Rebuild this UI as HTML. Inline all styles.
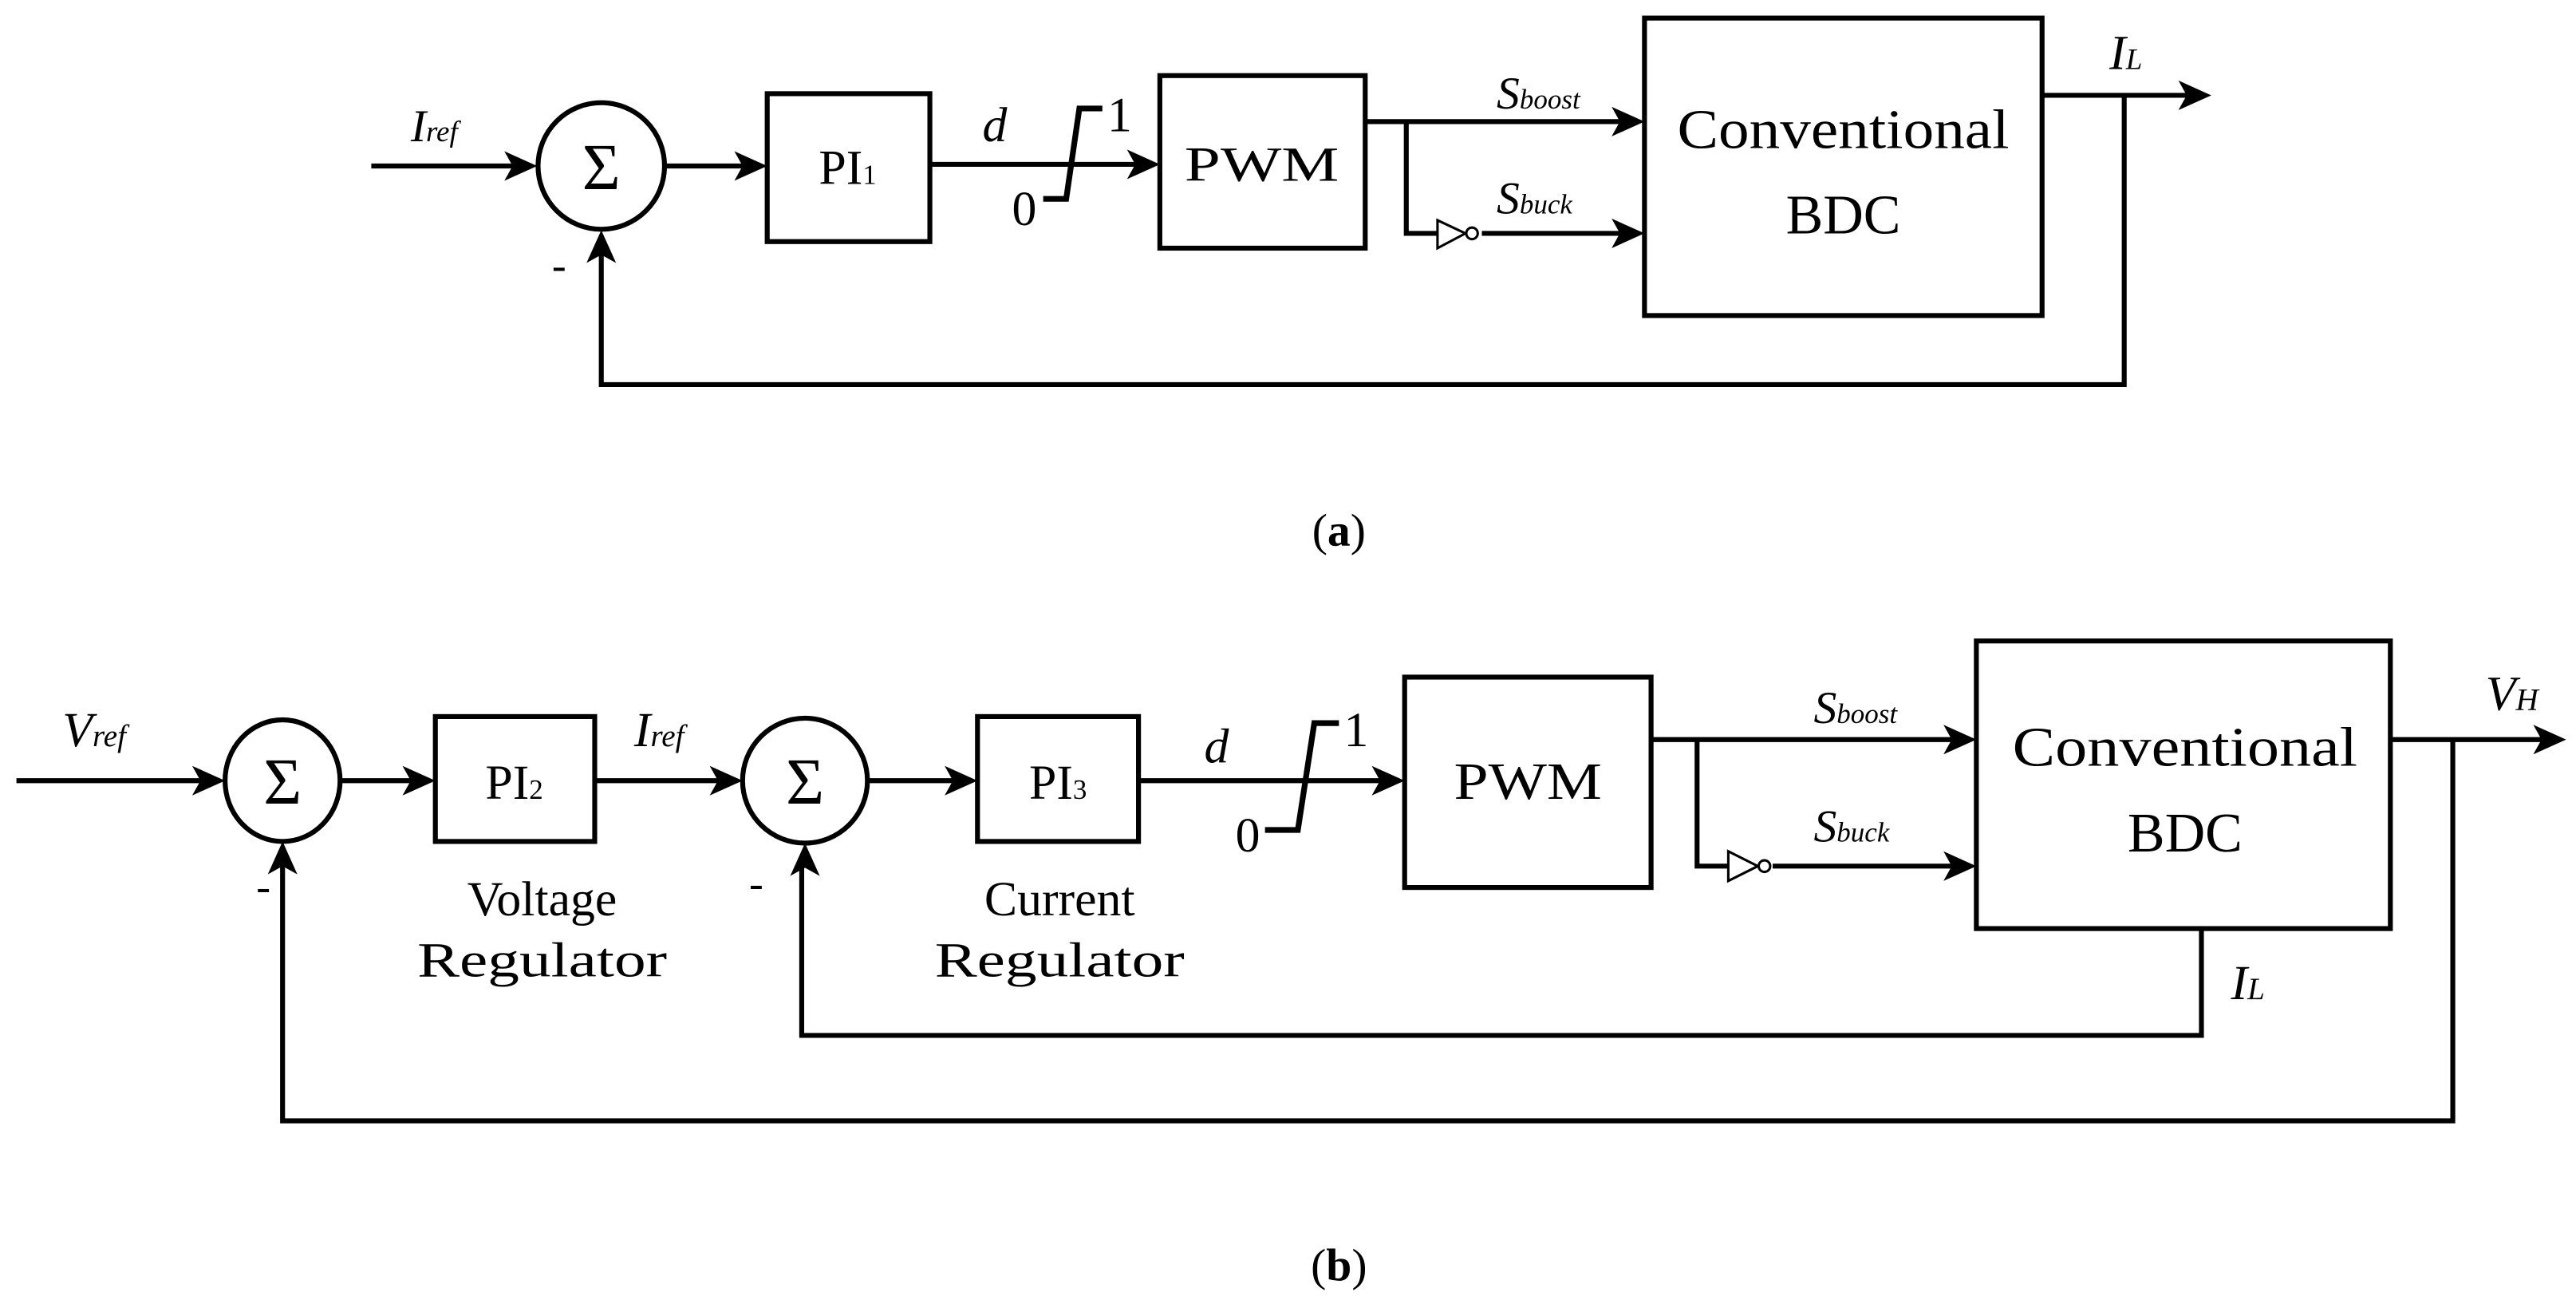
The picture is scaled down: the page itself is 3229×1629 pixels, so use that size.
<!DOCTYPE html>
<html><head><meta charset="utf-8"><style>
html,body{margin:0;padding:0;background:#fff;}
svg{display:block;}
svg text{font-family:'Liberation Serif','DejaVu Serif',serif;fill:#000;}
.it{font-style:italic;}
</style></head><body>
<svg width="3229" height="1629" viewBox="0 0 1568 791" preserveAspectRatio="none" xmlns="http://www.w3.org/2000/svg" font-family="Liberation Serif, DejaVu Serif, serif">
<g stroke="#000" stroke-width="3" fill="none">
<!-- (a) -->
<line x1="226" y1="101" x2="318" y2="101"/>
<ellipse cx="366" cy="101" rx="38.5" ry="38.5"/>
<line x1="405" y1="101" x2="458" y2="101"/>
<rect x="467" y="57" width="99" height="90"/>
<line x1="566" y1="100" x2="697" y2="100"/>
<rect x="706" y="46" width="125" height="105"/>
<line x1="831" y1="74" x2="992" y2="74"/>
<polyline points="856,74 856,142 875,142"/>
<line x1="902" y1="142" x2="992" y2="142"/>
<rect x="1001" y="11" width="242" height="181"/>
<line x1="1243" y1="58" x2="1334" y2="58"/>
<polyline points="1293,58 1293,234 366,234 366,148"/>
<polyline points="635,121 649,121 657,66 671,66" stroke-width="3.5"/>
<!-- (b) -->
<line x1="10" y1="475" x2="128" y2="475"/>
<ellipse cx="172" cy="475" rx="35" ry="37"/>
<line x1="207" y1="475" x2="257" y2="475"/>
<rect x="265" y="436" width="97" height="76"/>
<line x1="362" y1="475" x2="444" y2="475"/>
<ellipse cx="490" cy="475" rx="38" ry="38"/>
<line x1="528" y1="475" x2="587" y2="475"/>
<rect x="595" y="436" width="98" height="76"/>
<line x1="693" y1="475" x2="846" y2="475"/>
<rect x="855" y="412" width="150" height="128"/>
<line x1="1005" y1="450" x2="1194" y2="450"/>
<polyline points="1033,450 1033,527 1052,527"/>
<line x1="1079" y1="527" x2="1194" y2="527"/>
<rect x="1203" y="390" width="252" height="175"/>
<line x1="1455" y1="450" x2="1550" y2="450"/>
<polyline points="1340,565 1340,630 488,630 488,522"/>
<polyline points="1493,450 1493,682 172,682 172,520"/>
<polyline points="770,505 790,505 800,440 815,440" stroke-width="3.5"/>
</g>
<g stroke="#000" stroke-width="1.5" fill="#fff">
<polygon points="875,134 875,151 892,142"/>
<circle cx="896" cy="142" r="3.5"/>
<polygon points="1052,518 1052,536 1070,527"/>
<circle cx="1074" cy="527" r="3.5"/>
</g>
<g fill="#000">
<polygon points="327,101 307,92 312,101 307,110"/>
<polygon points="467,101 447,92 452,101 447,110"/>
<polygon points="706,100 686,91 691,100 686,109"/>
<polygon points="1001,74 981,65 986,74 981,83"/>
<polygon points="1001,142 981,133 986,142 981,151"/>
<polygon points="1346,58 1326,49 1331,58 1326,67"/>
<polygon points="137,475 117,466 122,475 117,484"/>
<polygon points="265,475 245,466 250,475 245,484"/>
<polygon points="452,475 432,466 437,475 432,484"/>
<polygon points="595,475 575,466 580,475 575,484"/>
<polygon points="855,475 835,466 840,475 835,484"/>
<polygon points="1203,450 1183,441 1188,450 1183,459"/>
<polygon points="1203,527 1183,518 1188,527 1183,536"/>
<polygon points="1562,450 1542,441 1547,450 1542,459"/>
<polygon points="366,140 357,160 366,155 375,160"/>
<polygon points="172,512 163,532 172,527 181,532"/>
<polygon points="490,513 481,533 490,528 499,533"/>
</g>
<!-- text (a) -->
<text x="250" y="86" font-size="28" class="it" font-style="italic">I<tspan font-size="18">ref</tspan></text>
<text x="366" y="115" font-size="40" text-anchor="middle">Σ</text>
<text x="336" y="170" font-size="26">-</text>
<text x="516" y="112" font-size="30" text-anchor="middle">PI<tspan font-size="17">1</tspan></text>
<text x="598" y="86" font-size="30" font-style="italic">d</text>
<text x="674" y="80" font-size="30">1</text>
<text x="616" y="137" font-size="30">0</text>
<text x="768" y="110" font-size="30" text-anchor="middle" textLength="94" lengthAdjust="spacingAndGlyphs">PWM</text>
<text x="911" y="66" font-size="28" font-style="italic">S<tspan font-size="17">boost</tspan></text>
<text x="911" y="130" font-size="28" font-style="italic">S<tspan font-size="17">buck</tspan></text>
<text x="1122" y="90" font-size="34" text-anchor="middle" textLength="202" lengthAdjust="spacingAndGlyphs">Conventional</text>
<text x="1122" y="142" font-size="34" text-anchor="middle">BDC</text>
<text x="1284" y="42" font-size="30" font-style="italic">I<tspan font-size="18">L</tspan></text>
<text x="815" y="332" font-size="28" text-anchor="middle">(<tspan font-weight="bold">a</tspan>)</text>
<!-- text (b) -->
<text x="38" y="454" font-size="30" font-style="italic">V<tspan font-size="19">ref</tspan></text>
<text x="172" y="489" font-size="40" text-anchor="middle">Σ</text>
<text x="490" y="489" font-size="40" text-anchor="middle">Σ</text>
<text x="156" y="548" font-size="26">-</text>
<text x="456" y="546" font-size="26">-</text>
<text x="313" y="486" font-size="30" text-anchor="middle">PI<tspan font-size="17">2</tspan></text>
<text x="644" y="486" font-size="30" text-anchor="middle">PI<tspan font-size="17">3</tspan></text>
<text x="386" y="454" font-size="30" font-style="italic">I<tspan font-size="19">ref</tspan></text>
<text x="330" y="557" font-size="30" text-anchor="middle">Voltage</text>
<text x="330" y="594" font-size="30" text-anchor="middle" textLength="152" lengthAdjust="spacingAndGlyphs">Regulator</text>
<text x="645" y="557" font-size="30" text-anchor="middle">Current</text>
<text x="645" y="594" font-size="30" text-anchor="middle" textLength="152" lengthAdjust="spacingAndGlyphs">Regulator</text>
<text x="733" y="464" font-size="30" font-style="italic">d</text>
<text x="818" y="454" font-size="30">1</text>
<text x="752" y="518" font-size="30">0</text>
<text x="930" y="486" font-size="32" text-anchor="middle" textLength="90" lengthAdjust="spacingAndGlyphs">PWM</text>
<text x="1104" y="440" font-size="28" font-style="italic">S<tspan font-size="17">boost</tspan></text>
<text x="1104" y="512" font-size="28" font-style="italic">S<tspan font-size="17">buck</tspan></text>
<text x="1330" y="466" font-size="34" text-anchor="middle" textLength="210" lengthAdjust="spacingAndGlyphs">Conventional</text>
<text x="1330" y="518" font-size="34" text-anchor="middle">BDC</text>
<text x="1513" y="432" font-size="30" font-style="italic">V<tspan font-size="19">H</tspan></text>
<text x="1358" y="608" font-size="30" font-style="italic">I<tspan font-size="19">L</tspan></text>
<text x="815" y="779" font-size="28" text-anchor="middle">(<tspan font-weight="bold">b</tspan>)</text>
</svg>
</body></html>
